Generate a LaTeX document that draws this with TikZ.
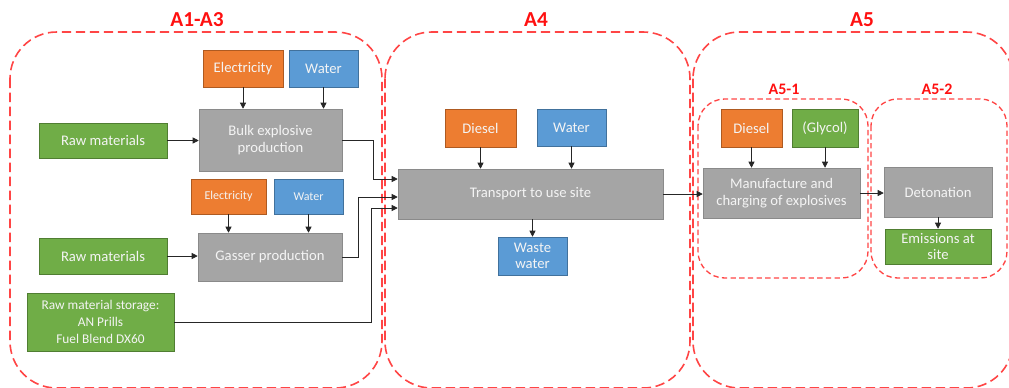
\documentclass[tikz,border=0pt]{standalone}
\usepackage{fontspec}
\setmainfont{Carlito}
\usetikzlibrary{arrows.meta}
\definecolor{inorangefill}{HTML}{ED7D31}
\definecolor{inorangeline}{HTML}{AE5A21}
\definecolor{inbluefill}{HTML}{5B9BD5}
\definecolor{inblueline}{HTML}{41719C}
\definecolor{ingreenfill}{HTML}{70AD47}
\definecolor{ingreenline}{HTML}{507E32}
\definecolor{procfill}{HTML}{A5A5A5}
\definecolor{procline}{HTML}{8A8A8A}
\definecolor{boxtext}{HTML}{F4F4F4}
\definecolor{stageline}{HTML}{FF4545}
\definecolor{stagetext}{HTML}{FF1010}
\tikzset{
    box/.style={draw, inner sep=0pt, align=center, text=boxtext, font=\fontsize{11}{12.5}\selectfont},
    boxsize/.style 2 args={minimum width=#1*0.75pt, minimum height=#2*0.75pt},
    inorange/.style={box, fill=inorangefill, draw=inorangeline},
    inblue/.style={box, fill=inbluefill, draw=inblueline},
    ingreen/.style={box, fill=ingreenfill, draw=ingreenline},
    procgray/.style={box, fill=procfill, draw=procline},
    small/.style={font=\fontsize{9}{10}\selectfont},
    arr/.style={-{Triangle[length=4.5pt,width=4.5pt]}, line width=0.6pt, draw=black!85},
    stage/.style={draw=stageline, line width=1.2pt, dash pattern=on 7pt off 3.5pt, rounded corners=35pt},
    substage/.style={draw=stageline, line width=1pt, dash pattern=on 4pt off 2.5pt, rounded corners=20pt},
    stagelabel/.style={text=stagetext, font=\bfseries\fontsize{16}{16}\selectfont},
    sublabel/.style={text=stagetext, font=\bfseries\fontsize{12}{12}\selectfont}
}
\begin{document}
\begin{tikzpicture}[x=0.75pt, y=-0.75pt]
            \clip (0,0) rectangle (1009,387);
            \draw [stage] (10,32) rectangle (382,388);
            \draw [stage] (385,32) rectangle (690,388);
            \draw [stage] (693,32) rectangle (1013,388);
            \draw [substage] (698,99) rectangle (868,278);
            \draw [substage] (871,99) rectangle (1007,278);
            \node [stagelabel] (L13) at (197,20) {A1-A3};
            \node [stagelabel] (L4) at (536,20) {A4};
            \node [stagelabel] (L5) at (862,20) {A5};
            \node [sublabel] (L51) at (784,89) {A5-1};
            \node [sublabel] (L52) at (937,89) {A5-2};
            \node [inorange, boxsize={80}{37}] (E1) at (243,68.5) {Electricity};
            \node [inblue, boxsize={69}{37}] (W1) at (323.5,68.5) {Water};
            \node [procgray, boxsize={143}{62}] (BP) at (270.5,140) {Bulk explosive\\production};
            \node [ingreen, boxsize={128}{35}] (R1) at (103,140.5) {Raw materials};
            \node [inorange, small, boxsize={75}{35}] (E2) at (228.5,196.5) {Electricity};
            \node [inblue, small, boxsize={69}{35}] (W2) at (308.5,196.5) {Water};
            \node [procgray, boxsize={144}{48}] (GP) at (270,257) {Gasser production};
            \node [ingreen, boxsize={128}{36}] (R2) at (103,256) {Raw materials};
            \node [ingreen, boxsize={147}{58}, font=\fontsize{10}{12.5}\selectfont] (S) at (100.5,322) {Raw material storage:\\AN Prills\\Fuel Blend DX60};
            \node [inorange, boxsize={71}{38}] (D1) at (480.5,128) {Diesel};
            \node [inblue, boxsize={69}{37}] (W3) at (571.5,127.5) {Water};
            \node [procgray, boxsize={265}{50}] (T) at (530.5,194) {Transport to use site};
            \node [inblue, boxsize={69}{38}] (WW) at (532.5,256) {Waste\\water};
            \node [inorange, boxsize={61}{38}] (D2) at (751.5,128) {Diesel};
            \node [ingreen, boxsize={66}{38}] (G) at (825,128) {(Glycol)};
            \node [procgray, boxsize={157}{50}] (M) at (781.5,193) {Manufacture and\\charging of explosives};
            \node [procgray, boxsize={108}{50}] (Det) at (938,192) {Detonation};
            \node [ingreen, boxsize={106}{35}] (Em) at (938,246.5) {Emissions at\\site};
            \draw [arr] (E1) -- (E1 |- BP.north);
            \draw [arr] (W1) -- (W1 |- BP.north);
            \draw [arr] (R1.east) -- (R1.east -| BP.west);
            \draw [arr] (E2) -- (E2 |- GP.north);
            \draw [arr] (W2) -- (W2 |- GP.north);
            \draw [arr] (R2.east) -- (R2.east -| GP.west);
            \draw [arr] (BP.east) -- ++(31,0) |- ([yshift=11.25pt]T.west);
            \draw [arr] (GP.east) -- ++(16,0) |- ([yshift=-2.25pt]T.west);
            \draw [arr] (S.east) -- ++(197,0) |- ([yshift=-10.5pt]T.west);
            \draw [arr] (D1) -- (D1 |- T.north);
            \draw [arr] (W3) -- (W3 |- T.north);
            \draw [arr] (T.south -| WW) -- (WW);
            \draw [arr] (T.east) -- (T.east -| M.west);
            \draw [arr] (D2) -- (D2 |- M.north);
            \draw [arr] (G) -- (G |- M.north);
            \draw [arr] (M.east) -- (M.east -| Det.west);
            \draw [arr] (Det) -- (Det |- Em.north);
        \end{tikzpicture}
\end{document}
